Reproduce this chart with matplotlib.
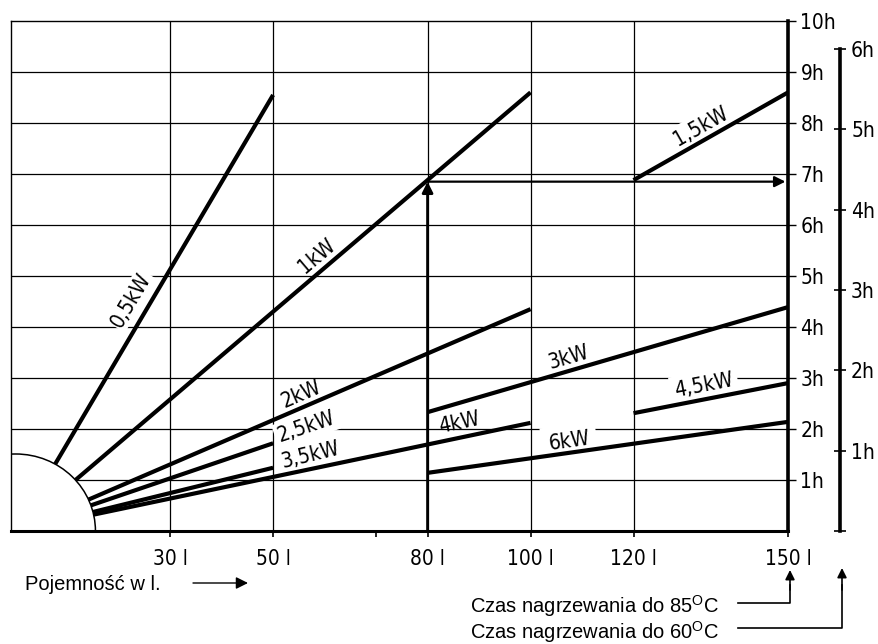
import matplotlib
matplotlib.use("Agg")
import matplotlib.pyplot as plt
import numpy as np
from matplotlib import font_manager
from matplotlib.font_manager import FontProperties
from matplotlib.patches import Ellipse

# heating time of a water heater vs. tank volume, one line per heater power
powers = ["0,5kW", "1kW", "1,5kW", "2kW", "2,5kW", "3kW", "3,5kW", "4kW", "4,5kW", "6kW"]
v_start = [0, 0, 120, 0, 0, 80, 0, 0, 120, 80]          # litres
v_end = [50, 100, 150, 100, 50, 150, 50, 100, 150, 150]
t_start = [0, 0, 6.88, 0, 0, 2.33, 0, 0, 2.31, 1.14]    # hours (to 85 C)
t_end = [8.55, 8.6, 8.6, 4.35, 1.72, 4.39, 1.24, 2.12, 2.9, 2.14]

volumes = [30, 50, 80, 100, 120, 150]
vol_labels = ["30 l", "50 l", "80 l", "100 l", "120 l", "150 l"]
hours_85 = list(range(1, 11))
hours_60 = list(range(1, 7))
scale_60 = 1.575          # 1 h on the 60 C scale, in 85 C hours

example_volume = 80
example_time = 6.85


def narrow_font():
    """Pick a condensed face for the technical lettering, if one is installed."""
    wanted = ["DejaVu Sans", "Liberation Sans Narrow", "Roboto Condensed",
              "Noto Sans", "Open Sans", "Roboto"]
    found = {}
    for f in font_manager.fontManager.ttflist:
        if f.style != "normal" or f.weight not in (400, "normal", "regular"):
            continue
        narrow = ("Narrow" in f.name or "Condensed" in f.name
                  or str(f.stretch) in ("condensed", "semi-condensed", "575", "625", "750"))
        if narrow and f.name not in found:
            found[f.name] = f.fname
    for name in wanted:
        if name in found:
            return found[name]
    return next(iter(found.values()), None)


path = narrow_font()
if path:
    TECH = dict(fontproperties=FontProperties(fname=path, size=15))
else:
    TECH = dict(family="DejaVu Sans", fontsize=13)
PLAIN = "Liberation Sans"
plt.rcParams["mathtext.fontset"] = "custom"
plt.rcParams["mathtext.rm"] = PLAIN

W, H = 879, 644
fig = plt.figure(figsize=(W / 100, H / 100), dpi=100)
ax = fig.add_axes([11 / W, 1 - 531 / H, 777 / W, 510 / H])
ax.set_xlim(-0.9, 150)
ax.set_ylim(0, 10)

# grid
ax.hlines(hours_85[:-1], -0.9, 150, color="k", lw=0.9, zorder=1)
ax.vlines(volumes[:-1], 0, 10, color="k", lw=0.9, zorder=1)

# power lines
for v0, v1, t0, t1 in zip(v_start, v_end, t_start, t_end):
    ax.plot([v0, v1], [t0, t1], color="k", lw=3, solid_capstyle="butt", zorder=3)

# quarter circle hiding the origin
ax.add_patch(Ellipse((0, 0), 2 * 15.5, 2 * 1.51, facecolor="white",
                     edgecolor="k", lw=1.1, zorder=4))

# labels along the lines
label_pos = [(22.4, 4.53), (58.5, 5.39), (133.1, 7.94), (55.4, 2.69), (56.4, 2.04),
             (107.5, 3.41), (57.2, 1.49), (86.1, 2.12), (133.7, 2.86), (107.5, 1.76)]
boxed = {"0,5kW": 1, "2,5kW": 2, "6kW": 5, "4,5kW": 3, "1,5kW": 2}
for name, (x, y), v0, v1, t0, t1 in zip(powers, label_pos, v_start, v_end, t_start, t_end):
    ang = np.degrees(np.arctan2(t1 - t0, v1 - v0))
    bbox = dict(facecolor="white", edgecolor="none", pad=boxed[name]) if name in boxed else None
    ax.text(x, y, name, rotation=ang, transform_rotates_text=True,
            rotation_mode="anchor", ha="center", va="center",
            zorder=2, bbox=bbox, **TECH)

# example: 80 l with 1 kW
arrow = dict(arrowstyle="-|>", color="k", lw=2, mutation_scale=16, shrinkA=0, shrinkB=0)
ax.annotate("", xy=(example_volume, example_time), xytext=(example_volume, 0),
            arrowprops=arrow, zorder=5)
ax.annotate("", xy=(149.5, example_time), xytext=(example_volume, example_time),
            arrowprops=dict(arrow, lw=1.6), zorder=5)

# second scale: heating to 60 C
ax2 = ax.twinx()
ax2.set_ylim(0, 10 / scale_60)
for side in ["left", "top", "bottom"]:
    ax2.spines[side].set_visible(False)
ax2.spines["right"].set_position(("axes", 829 / 777))
ax2.spines["right"].set_bounds(0, 6)
ax2.spines["right"].set_linewidth(2.6)
ax2.set_yticks([0] + hours_60)
ax2.set_yticklabels([""] + [f"{h}h" for h in hours_60])
ax2.tick_params(axis="y", direction="inout", length=8, width=1.2, pad=4)

# spines and ticks of the main (85 C) scale
for side in ["left", "top"]:
    ax.spines[side].set_linewidth(1.0)
ax.spines["bottom"].set_linewidth(2.2)
ax.spines["right"].set_linewidth(2.6)
for s in ax.spines.values():
    s.set_zorder(6)
ax.yaxis.tick_right()
ax.set_yticks(hours_85)
ax.set_yticklabels([f"{h}h" for h in hours_85])
ax.tick_params(axis="y", direction="out", length=6, width=1, pad=3)
ax.set_xticks(volumes + [70])
ax.set_xticklabels(vol_labels + [""])
ax.tick_params(axis="x", direction="out", length=4, width=1.2, pad=9)
for lbl in ax.get_xticklabels() + ax.get_yticklabels() + ax2.get_yticklabels():
    if path:
        lbl.set_fontproperties(TECH["fontproperties"])
    else:
        lbl.set_family("DejaVu Sans")
        lbl.set_fontsize(13)

# captions and leader arrows, drawn in figure pixels
ov = fig.add_axes([0, 0, 1, 1], zorder=10)
ov.set_xlim(0, W)
ov.set_ylim(H, 0)
ov.axis("off")
ov.text(25, 584, "Pojemność w l.", family=PLAIN, fontsize=14.5, va="center")
ov.annotate("", xy=(248, 583), xytext=(193, 583),
            arrowprops=dict(arrowstyle="-|>", color="k", lw=1, mutation_scale=18,
                            shrinkA=0, shrinkB=0))
ov.text(470, 606, r"Czas nagrzewania do 85$^{\mathrm{O}}$C", family=PLAIN,
        fontsize=14.5, va="center")
ov.text(470, 632, r"Czas nagrzewania do 60$^{\mathrm{O}}$C", family=PLAIN,
        fontsize=14.5, va="center")
ov.plot([738, 790, 790], [603, 603, 585], color="k", lw=1.2)
ov.annotate("", xy=(790, 570), xytext=(790, 590),
            arrowprops=dict(arrowstyle="-|>", color="k", lw=1.2, mutation_scale=14,
                            shrinkA=0, shrinkB=0))
ov.plot([738, 842, 842], [628, 628, 585], color="k", lw=1.2)
ov.annotate("", xy=(842, 568), xytext=(842, 590),
            arrowprops=dict(arrowstyle="-|>", color="k", lw=1.2, mutation_scale=14,
                            shrinkA=0, shrinkB=0))

fig.savefig("out.png", dpi=100)
